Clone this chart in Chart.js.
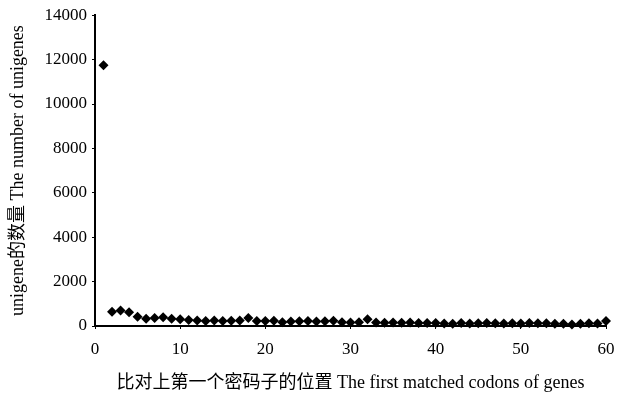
<!DOCTYPE html>
<html>
<head>
<meta charset="utf-8">
<script src="https://cdn.jsdelivr.net/npm/chart.js@4"></script>
<style>
html,body{margin:0;padding:0;background:#fff;}
#wrap{width:631px;height:401px;}
</style>
</head>
<body>
<div id="wrap"><canvas id="c" width="631" height="401"></canvas></div>
<script>
const positions = [1,2,3,4,5,6,7,8,9,10,11,12,13,14,15,16,17,18,19,20,21,22,23,24,25,26,27,28,29,30,31,32,33,34,35,36,37,38,39,40,41,42,43,44,45,46,47,48,49,50,51,52,53,54,55,56,57,58,59,60];
const counts = [11750,640,700,620,420,330,360,390,330,300,270,250,230,250,230,240,250,360,220,230,240,170,200,210,230,200,210,240,170,160,170,300,160,150,160,150,160,140,140,130,110,100,130,110,120,140,120,110,120,110,130,120,120,100,100,70,100,120,110,230];
const xTicks = [0,10,20,30,40,50,60];
const yTicks = [0,2000,4000,6000,8000,10000,12000,14000];
const xTitle = '比对上第一个密码子的位置 The first matched codons of genes';
const yTitle = 'unigene的数量 The number of unigenes';

const serif = "'Liberation Serif','DejaVu Serif',serif";
const cjk = "'Liberation Serif','Noto Sans CJK SC',serif";

new Chart(document.getElementById('c'), {
  type: 'scatter',
  data: {
    datasets: [{
      data: positions.map((p, i) => ({x: p, y: counts[i]})),
      pointStyle: 'rectRot',
      pointRadius: 5,
      pointHoverRadius: 5,
      backgroundColor: '#000',
      borderColor: '#000',
      borderWidth: 0,
      clip: false
    }]
  },
  options: {
    responsive: false,
    animation: false,
    events: [],
    layout: {padding: {top: 14, right: 25, left: 0, bottom: 0}},
    plugins: {legend: {display: false}, tooltip: {enabled: false}},
    scales: {
      x: {
        type: 'linear', min: 0, max: 60,
        afterBuildTicks: s => { s.ticks = xTicks.map(v => ({value: v})); },
        afterFit: s => { s.height = 75; },
        grid: {display: true, drawOnChartArea: false, drawTicks: true, tickLength: 3, color: '#000'},
        border: {display: true, color: '#000', width: 2},
        ticks: {color: '#000', font: {family: serif, size: 17}, padding: 10, maxRotation: 0, callback: v => String(v)},
        title: {display: true, text: xTitle, color: '#000', font: {family: cjk, size: 18}, padding: {top: 8, bottom: 7}}
      },
      y: {
        type: 'linear', min: 0, max: 14000,
        afterBuildTicks: s => { s.ticks = yTicks.map(v => ({value: v})); },
        afterFit: s => { s.width = 95; },
        grid: {display: true, drawOnChartArea: false, drawTicks: true, tickLength: 3, color: '#000'},
        border: {display: true, color: '#000', width: 2},
        ticks: {color: '#000', font: {family: serif, size: 17}, padding: 5, callback: v => String(v)},
        title: {display: true, text: yTitle, color: '#000', font: {family: cjk, size: 18}, padding: {top: 7, bottom: 4}}
      }
    }
  }
});
</script>
</body>
</html>
